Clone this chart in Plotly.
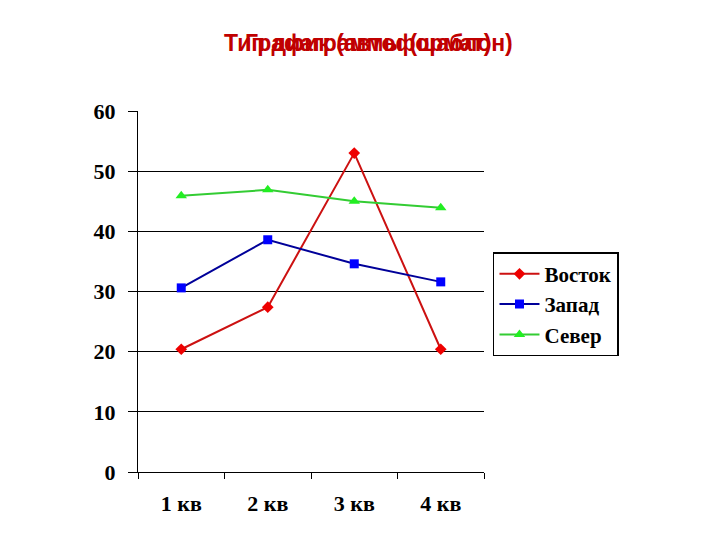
import plotly.graph_objects as go

categories = ["1 кв", "2 кв", "3 кв", "4 кв"]
vostok = [20.4, 27.4, 53.0, 20.4]
zapad = [30.6, 38.6, 34.6, 31.6]
sever = [45.9, 46.9, 45.0, 43.9]
y_ticks = [0, 10, 20, 30, 40, 50, 60]
title_a = "График (автоформат)"
title_b = "Тип диаграммы (шаблон)"

fig = go.Figure()
fig.add_trace(go.Scatter(x=categories, y=vostok, name="Восток", mode="lines+markers",
                         line=dict(color="#cc1111", width=2),
                         marker=dict(symbol="diamond", size=9, color="#ee0000")))
fig.add_trace(go.Scatter(x=categories, y=zapad, name="Запад", mode="lines+markers",
                         line=dict(color="#000099", width=2),
                         marker=dict(symbol="square", size=9, color="#0000ff")))
fig.add_trace(go.Scatter(x=categories, y=sever, name="Север", mode="lines+markers",
                         line=dict(color="#33cc33", width=2),
                         marker=dict(symbol="triangle-up", size=10, color="#22ee22")))

serif = "Liberation Serif"
fig.update_layout(
    width=720, height=540,
    margin=dict(l=138, r=236, t=111, b=68),
    paper_bgcolor="white", plot_bgcolor="white",
    showlegend=True,
    legend=dict(x=1.026, y=0.609, xanchor="left", yanchor="top",
                bordercolor="black", borderwidth=1.5,
                font=dict(family=serif, size=21, color="black", weight="bold"),
                tracegroupgap=0, itemwidth=40),
    xaxis=dict(type="category", range=[-0.5, 3.5], showline=True, linecolor="black",
               linewidth=1, ticks="outside", tickson="boundaries", ticklen=6,
               tickcolor="black", showgrid=False, ticklabelstandoff=12,
               tickfont=dict(family=serif, size=22, color="black", weight="bold")),
    yaxis=dict(range=[0, 60], tickvals=y_ticks, showline=True, linecolor="black",
               linewidth=1, ticks="outside", ticklen=9, tickcolor="black",
               ticklabelstandoff=8,
               showgrid=True, gridcolor="black", gridwidth=1, zeroline=False,
               tickfont=dict(family=serif, size=22, color="black", weight="bold")),
)
for t in (title_a, title_b):
    fig.add_annotation(text="<b>" + t + "</b>", xref="paper", yref="paper",
                       x=(368 - 138) / 346, y=1 + (111 - 43) / 361,
                       xanchor="center", yanchor="middle", showarrow=False,
                       font=dict(family="Liberation Sans", size=23, color="#c00000"))

fig.write_html("out.html")
